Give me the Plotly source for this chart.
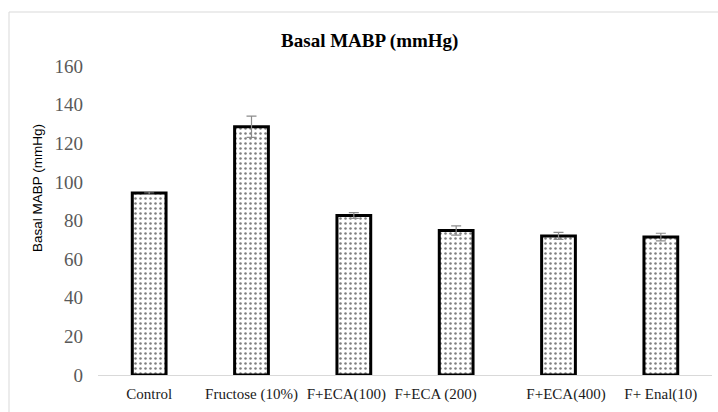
import plotly.graph_objects as go

categories = ["Control", "Fructose (10%)", "F+ECA(100)", "F+ECA (200)", "F+ECA(400)", "F+ Enal(10)"]
tick_text = ["Control", "Fructose (10%)",
             "F+ECA(100)" + "\u00a0" * 4,
             "F+ECA (200)" + "\u00a0" * 11,
             "\u00a0" * 4 + "F+ECA(400)",
             "F+ Enal(10)"]
mabp = [94.2, 128.5, 82.6, 74.8, 72.0, 71.4]
sem = [0.6, 5.5, 1.5, 2.4, 1.8, 2.0]
y_ticks = [0, 20, 40, 60, 80, 100, 120, 140, 160]

SERIF = "Liberation Serif, Times New Roman, serif"

fig = go.Figure()
fig.add_trace(go.Bar(
    x=categories,
    y=mabp,
    width=0.33,
    marker=dict(
        color="white",
        line=dict(color="black", width=3),
        pattern=dict(shape=".", fgcolor="black", bgcolor="white", size=5, solidity=0.2),
    ),
    error_y=dict(type="data", array=sem, visible=True, color="#8c8c8c", thickness=1.2, width=5),
))

fig.update_layout(
    width=718, height=412,
    margin=dict(l=98, r=6, t=66, b=37, autoexpand=False),
    paper_bgcolor="white", plot_bgcolor="white",
    showlegend=False,
    title=dict(text="<b>Basal MABP (mmHg)</b>", x=0.515, xanchor="center",
               y=1 - 40 / 412, yanchor="middle", yref="container",
               font=dict(family=SERIF, size=19, color="black")),
    shapes=[dict(type="rect", xref="paper", yref="paper",
                 x0=(9 - 98) / 614, x1=(730 - 98) / 614,
                 y0=(375 - 430) / 309, y1=(375 - 12) / 309,
                 line=dict(color="#d9d9d9", width=1), layer="below")],
    annotations=[dict(text="Basal MABP (mmHg)", textangle=-90, showarrow=False,
                      xref="paper", yref="paper",
                      x=(37 - 98) / 614, y=(375 - 188) / 309,
                      xanchor="center", yanchor="middle",
                      font=dict(family="Liberation Sans", size=13.5, color="black"))],
)
fig.update_xaxes(
    tickvals=categories, ticktext=tick_text, tickangle=0, automargin=False,
    showgrid=False, showline=True, linecolor="#d9d9d9", linewidth=1,
    ticks="", ticklabelstandoff=5,
    tickfont=dict(family=SERIF, size=15, color="#1a1a1a"),
)
fig.update_yaxes(
    range=[0, 160], tickvals=y_ticks, automargin=False,
    showgrid=False, zeroline=False, showline=False, ticks="",
    ticklabelstandoff=14,
    tickfont=dict(family=SERIF, size=19, color="#595959"),
)

fig.write_html("out.html", config={"displayModeBar": False},
               post_script="document.body.style.margin='0';")
